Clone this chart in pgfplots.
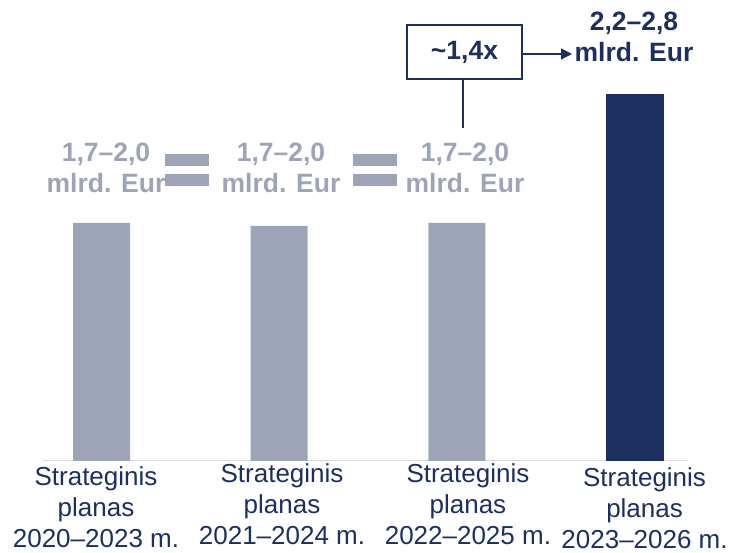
\documentclass[border=0pt]{standalone}
\usepackage{pgfplots}
\pgfplotsset{compat=1.18}
\usepackage{fontspec}
\setmainfont{Liberation Sans}
\usetikzlibrary{arrows.meta}
\definecolor{barg}{RGB}{157,164,184}
\definecolor{navy}{RGB}{27,47,96}
\definecolor{basel}{RGB}{217,217,217}
\begin{document}
\begin{tikzpicture}[x=1pt,y=1pt]
\path[use as bounding box] (0,0) rectangle (733,553);
\begin{axis}[
  at={(43pt,92pt)}, anchor=south west,
  scale only axis, width=645pt, height=461pt,
  xmin=-0.3292, xmax=3.3005, ymin=0, ymax=4.61,
  axis x line=bottom, axis y line=none,
  x axis line style={basel, line width=1pt, -},
  xtick={-0.031,1.016,2.062,3.056}, major tick length=0pt,
  xticklabels={{\rule{0pt}{24pt}Strateginis\\planas\\2020--2023 m.},{\rule{0pt}{21pt}Strateginis\\planas\\2021--2024 m.},{\rule{0pt}{21pt}Strateginis\\planas\\2022--2025 m.},{\rule{0pt}{25pt}Strateginis\\planas\\2023--2026 m.}},
  xticklabel style={align=center, font=\fontsize{26}{31}\selectfont, text=navy, inner sep=0pt, anchor=north},
  clip=false,
]
\addplot[ybar, bar width=57pt, bar shift=0pt, fill=barg, draw=none] coordinates {(0,2.38) (1,2.35) (2,2.38)};
\addplot[ybar, bar width=58pt, bar shift=0pt, fill=navy, draw=none] coordinates {(3,3.67)};
\end{axis}
\tikzset{lbl/.style={font=\bfseries\fontsize{26.5}{31}\selectfont, align=center, inner sep=0pt}}
\node[lbl, text=barg] at (106,553-168) {1,7--2,0\\mlrd. Eur};
\node[lbl, text=barg] at (281,553-168) {1,7--2,0\\mlrd. Eur};
\node[lbl, text=barg] at (465,553-168) {1,7--2,0\\mlrd. Eur};
\fill[barg] (165,553-154) rectangle (209,553-166);
\fill[barg] (165,553-174) rectangle (209,553-186);
\fill[barg] (353,553-154) rectangle (397,553-166);
\fill[barg] (353,553-174) rectangle (397,553-186);
\draw[navy, line width=1.6pt] (407,553-25) rectangle (522,553-79);
\node[lbl, text=navy] at (464.5,553-52) {\textasciitilde1,4x};
\draw[navy, line width=1.4pt] (463,553-79) -- (463,553-128);
\draw[navy, line width=1.4pt, -{Triangle[length=11pt,width=11pt]}] (522,553-54) -- (572,553-54);
\node[lbl, text=navy] at (634,553-37) {2,2--2,8\\mlrd. Eur};
\end{tikzpicture}
\end{document}
